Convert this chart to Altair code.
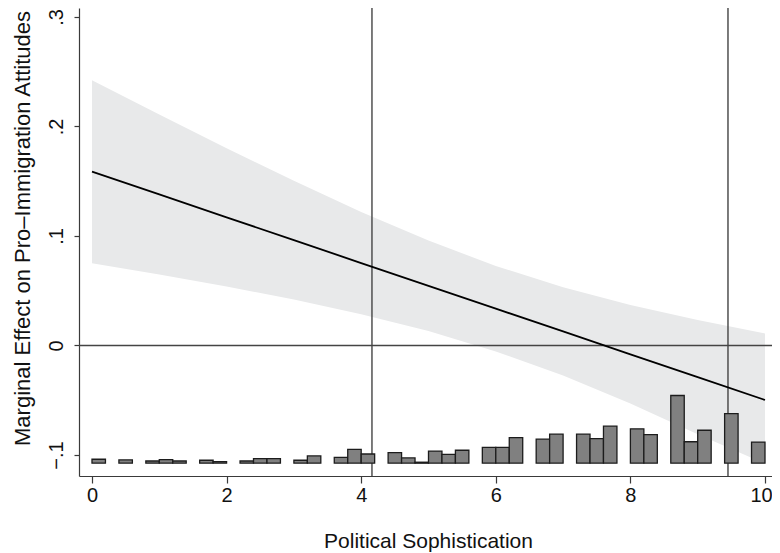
import altair as alt
import pandas as pd

# Marginal effect curve (read at integer sophistication values)
soph = [0, 1, 2, 3, 4, 5, 6, 7, 8, 9, 10]
effect = [0.1587, 0.1379, 0.1170, 0.0962, 0.0753, 0.0545, 0.0336, 0.0128, -0.0081, -0.0289, -0.0498]
upper = [0.2423, 0.2110, 0.1802, 0.1504, 0.1220, 0.0958, 0.0726, 0.0531, 0.0369, 0.0232, 0.0110]
lower = [0.0751, 0.0648, 0.0538, 0.0420, 0.0286, 0.0132, -0.0054, -0.0275, -0.0531, -0.0810, -0.1080]

# Histogram of political sophistication (bin left edges and bar heights in y units)
bin_left = [0.0, 0.4, 0.8, 1.0, 1.2, 1.6, 1.8, 2.2, 2.4, 2.6, 3.0, 3.2, 3.6, 3.8, 4.0,
            4.4, 4.6, 4.8, 5.0, 5.2, 5.4, 5.8, 6.0, 6.2, 6.6, 6.8, 7.2, 7.4, 7.6,
            8.0, 8.2, 8.6, 8.8, 9.0, 9.4, 9.8]
bar_height = [0.0036, 0.0030, 0.0020, 0.0033, 0.0020, 0.0027, 0.0015, 0.0020, 0.0042, 0.0042,
              0.0027, 0.0066, 0.0054, 0.0127, 0.0084, 0.0097, 0.0048, 0.0009, 0.0111, 0.0081,
              0.0118, 0.0145, 0.0145, 0.0233, 0.0220, 0.0265, 0.0265, 0.0224, 0.0338, 0.0314,
              0.0260, 0.0618, 0.0196, 0.0301, 0.0452, 0.0193]
bin_width = 0.2
hist_base = -0.1075

ref_x = [4.16, 9.45]
ref_y = [0.0]
x_ticks = [0, 2, 4, 6, 8, 10]
y_ticks = [-0.1, 0.0, 0.1, 0.2, 0.3]

curve = pd.DataFrame({"x": soph, "me": effect, "lo": lower, "hi": upper})
hist = pd.DataFrame({"x": bin_left, "h": bar_height})
hist["x2"] = hist["x"] + bin_width
hist["y"] = hist_base
hist["y2"] = hist_base + hist["h"]
vlines = pd.DataFrame({"x": ref_x})
hlines = pd.DataFrame({"y": ref_y})

FONT = "Liberation Sans"
AX = "#3a3a3a"
TXT = "#111111"

xscale = alt.Scale(domain=[-0.193, 10.104], nice=False, zero=False)
yscale = alt.Scale(domain=[-0.1192, 0.3082], nice=False, zero=False)

xaxis = alt.Axis(
    values=x_ticks, title="Political Sophistication", grid=False,
    domainColor=AX, tickColor=AX, tickSize=7, domainWidth=1.2, tickWidth=1.2,
    labelFont=FONT, labelFontSize=20, labelColor=TXT, labelPadding=2, labelFlush=False,
    labelOffset={"condition": {"test": "datum.value == 10", "value": -4}, "value": 0},
    titleFont=FONT, titleFontSize=21, titleFontWeight="normal", titleColor=TXT,
    titleX=349, titleY=65, titleAlign="center", titleBaseline="middle",
)
yaxis = alt.Axis(
    values=y_ticks, title="Marginal Effect on Pro\u2013Immigration Attitudes", grid=False,
    labelExpr="datum.value == 0 ? '0' : replace(format(datum.value, '.1f'), '0.', '.')",
    domainColor=AX, tickColor=AX, tickSize=5, domainWidth=1.2, tickWidth=1.2,
    labelFont=FONT, labelFontSize=20, labelColor=TXT, labelPadding=8,
    labelAngle=270, labelAlign="center", labelBaseline="bottom", labelFlush=False,
    titleFont=FONT, titleFontSize=22, titleFontWeight="normal", titleColor=TXT,
    titleAngle=270, titleX=-57, titleY=220, titleAlign="center", titleBaseline="middle",
)

band = alt.Chart(curve).mark_area(color="#e8e9ea", opacity=1).encode(
    x=alt.X("x:Q", scale=xscale, axis=xaxis),
    y=alt.Y("lo:Q", scale=yscale, axis=yaxis),
    y2="hi:Q",
)

vrule = alt.Chart(vlines).mark_rule(color="#444444", strokeWidth=1.4).encode(
    x=alt.X("x:Q", scale=xscale, axis=xaxis),
)
hrule = alt.Chart(hlines).mark_rule(color="#444444", strokeWidth=1.4).encode(
    y=alt.Y("y:Q", scale=yscale, axis=yaxis),
)

bars = alt.Chart(hist).mark_rect(fill="#808080", stroke="#1c1c1c", strokeWidth=1.3).encode(
    x=alt.X("x:Q", scale=xscale, axis=xaxis),
    x2="x2:Q",
    y=alt.Y("y:Q", scale=yscale, axis=yaxis),
    y2="y2:Q",
)

line = alt.Chart(curve).mark_line(color="#000000", strokeWidth=1.8).encode(
    x=alt.X("x:Q", scale=xscale, axis=xaxis),
    y=alt.Y("me:Q", scale=yscale, axis=yaxis),
)

chart = alt.layer(band, vrule, hrule, bars, line).properties(
    width=693,
    height=468,
    autosize=alt.AutoSizeParams(type="none"),
    padding={"left": 71, "top": 0, "right": 0, "bottom": 77},
    background="white",
).configure_view(stroke=None)

chart.save("out.html", embed_options={"renderer": "svg", "actions": False})
